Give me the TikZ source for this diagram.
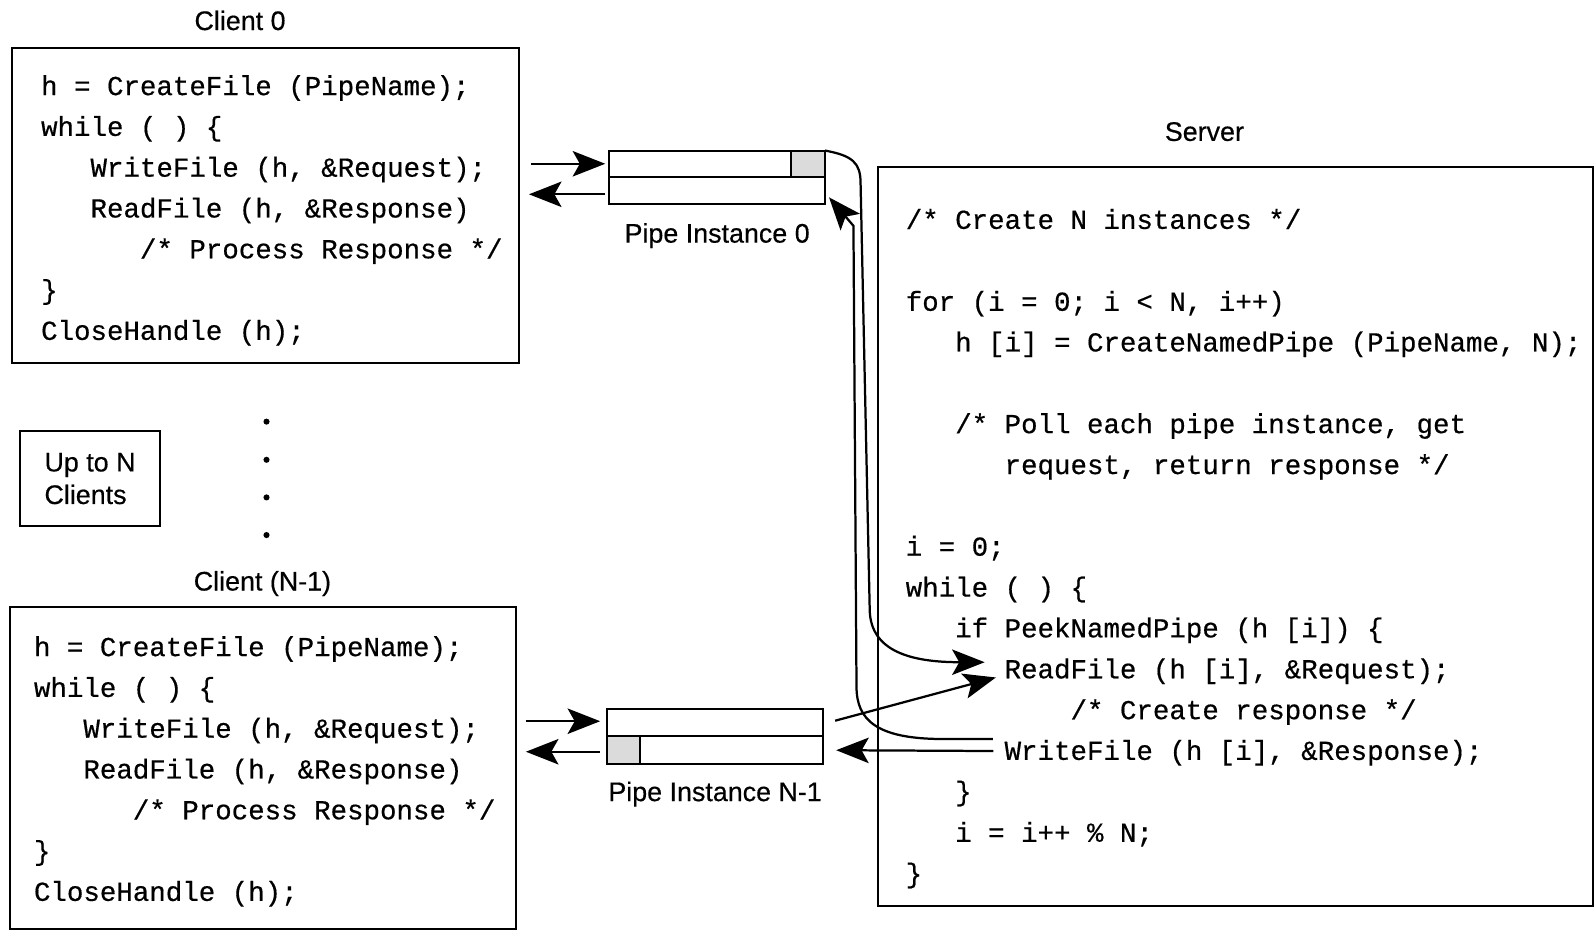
\documentclass[tikz,border=0pt]{standalone}
\usepackage{fontspec}
\setmainfont[FakeBold=0.4]{Liberation Sans}
\newfontfamily\codefamily[FakeBold=0.5]{Liberation Mono}
\usetikzlibrary{arrows.meta}

% one line of program text, placed by its baseline start
\newcommand\codeat[4]{\node[code] (#1) at (#2,#3) {#4};}

\begin{document}
\begin{tikzpicture}[x=0.5pt,y=-0.5pt,
  box/.style={draw, line width=1.1pt, rectangle, inner sep=0pt, outer sep=0pt},
  code/.style={anchor=base west, inner sep=0pt, font=\codefamily\fontsize{13.5}{16}\selectfont\frenchspacing},
  lbl/.style={anchor=base, inner sep=0pt, font=\fontsize{13.2}{16}\selectfont},
  pipe/.style={draw, line width=1pt, rectangle, inner sep=0pt, outer sep=0pt, minimum width=106pt},
  cell/.style={draw, line width=1pt, fill=black!14},
  conn/.style={line width=1.1pt, -{Stealth[length=16pt,width=12.5pt,inset=3.5pt]}},
]
\path[use as bounding box] (0,0) rectangle (1568,916);

% ---------- client 0 ----------
\node[lbl] (c0lbl) at (236,29.5) {Client 0};
\node[box, minimum width=249pt, minimum height=155pt] (c0box) at (261,202) {};
\codeat{c0a}{40}{93.5}{h = CreateFile (PipeName);}
\codeat{c0b}{40}{133.6}{while ( ) \{}
\codeat{c0c}{88.6}{173.7}{WriteFile (h, \&Request);}
\codeat{c0d}{88.6}{213.8}{ReadFile (h, \&Response)}
\codeat{c0e}{137.2}{253.9}{/* Process Response */}
\codeat{c0f}{40}{294}{\}}
\codeat{c0g}{40}{334.1}{CloseHandle (h);}

% ---------- clients in between ----------
\node[box, minimum width=68.5pt, minimum height=46.5pt, align=left,
      font=\fontsize{13.2}{16}\selectfont] (upto) at (88.5,470.5) {Up to N\\Clients};
\foreach \yy in {414.5,452,489,526} \fill (262,\yy) circle[radius=1.5pt];

% ---------- client N-1 ----------
\node[lbl] (cnlbl) at (258,580.5) {Client (N-1)};
\node[box, minimum width=248.5pt, minimum height=158pt] (cnbox) at (258.5,755) {};
\codeat{cna}{33}{645}{h = CreateFile (PipeName);}
\codeat{cnb}{33}{685.1}{while ( ) \{}
\codeat{cnc}{81.6}{725.2}{WriteFile (h, \&Request);}
\codeat{cnd}{81.6}{765.3}{ReadFile (h, \&Response)}
\codeat{cne}{130.2}{805.4}{/* Process Response */}
\codeat{cnf}{33}{845.5}{\}}
\codeat{cng}{33}{885.6}{CloseHandle (h);}

% ---------- pipe instances ----------
\node[pipe, minimum height=13pt] (p0top) at (705,161) {};
\node[pipe, minimum height=13.5pt] (p0bot) at (705,187.5) {};
\draw[cell] ([xshift=-16.5pt]p0top.north east) rectangle (p0top.south east);
\node[lbl] (p0lbl) at (705,238.5) {Pipe Instance 0};

\node[pipe, minimum height=13.5pt] (pntop) at (703,710.5) {};
\node[pipe, minimum height=13.5pt] (pnbot) at (703,737.5) {};
\draw[cell] (pnbot.north west) rectangle ([xshift=16pt]pnbot.south west);
\node[lbl] (pnlbl) at (703,787.5) {Pipe Instance N-1};

% ---------- server ----------
\node[lbl] (srvlbl) at (1184,138.5) {Server};
\node[box, minimum width=351.5pt, minimum height=363.5pt] (srvbox) at (1214.5,527.5) {};
\codeat{s00}{890}{225}{/* Create N instances */}
\codeat{s02}{890}{305.5}{for (i = 0; i < N, i++)}
\codeat{s03}{938.6}{345.5}{h [i] = CreateNamedPipe (PipeName, N);}
\codeat{s05}{938.6}{425.8}{/* Poll each pipe instance, get}
\codeat{s06}{987.2}{466}{request, return response */}
\codeat{s08}{890}{546.3}{i = 0;}
\codeat{s09}{890}{586.5}{while ( ) \{}
\codeat{s10}{938.6}{626.6}{if PeekNamedPipe (h [i]) \{}
\codeat{s11}{987.2}{666.8}{ReadFile (h [i], \&Request);}
\codeat{s12}{1052}{707}{/* Create response */}
\codeat{s13}{987.2}{747}{WriteFile (h [i], \&Response);}
\codeat{s14}{938.6}{787}{\}}
\codeat{s15}{938.6}{827.5}{i = i++ \% N;}
\codeat{s16}{890}{867.6}{\}}

% connector ends beside the server's read and write calls
\coordinate (readA) at (968,651);
\coordinate (readC) at (979,666);
\coordinate (writeB) at (976,726.5);
\coordinate (writeD) at (976.5,738.3);

% ---------- client <-> pipe ----------
\draw[conn, shorten <=6pt, shorten >=2pt] (c0box.east |- p0top.west) -- (p0top.west);
\draw[conn, shorten <=2pt, shorten >=5pt] ([yshift=-1.75pt]p0bot.west) -- ([yshift=-1.75pt]p0bot.west -| c0box.east);
\draw[conn, shorten <=5pt, shorten >=3.5pt] ([yshift=0.75pt]cnbox.east |- pntop.west) -- ([yshift=0.75pt]pntop.west);
\draw[conn, shorten <=3.5pt, shorten >=5pt] ([yshift=-0.75pt]pnbot.west) -- ([yshift=-0.75pt]pnbot.west -| cnbox.east);

% ---------- pipe <-> server ----------
\draw[conn] (p0top.north east) .. controls (838,153) and (846,160) .. (846,180)
  -- (855,600) .. controls (856,640) and (895,651) .. (readA);
\draw[conn] (writeB) -- (925,726.5) .. controls (862,726) and (842,708) .. (842,675)
  -- (839,222) -- ([shift={(2pt,-3.25pt)}]p0bot.east);
\draw[conn] ([shift={(6pt,1pt)}]pntop.east) -- (readC);
\draw[conn] (writeD) -- ([xshift=6.5pt]pnbot.east);
\end{tikzpicture}
\end{document}
